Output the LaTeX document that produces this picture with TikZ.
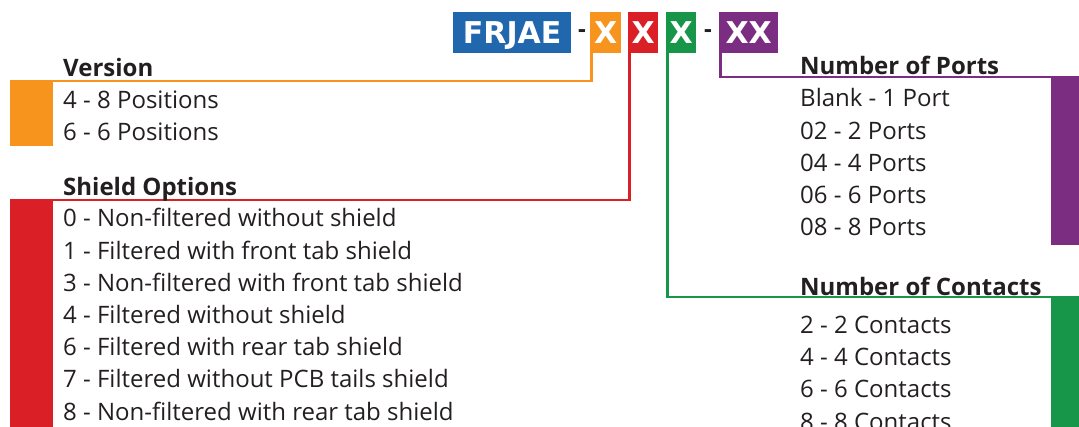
\documentclass[tikz,border=0pt]{standalone}
\usepackage{fontspec}
\setmainfont{Open Sans}
\newfontfamily\codefont{DejaVu Sans}
\definecolor{ink}{HTML}{231F20}
\definecolor{codeblue}{HTML}{2167AE}
\definecolor{verorange}{HTML}{F7941D}
\definecolor{shieldred}{HTML}{DA1F26}
\definecolor{contgreen}{HTML}{17964A}
\definecolor{portpurple}{HTML}{7B2D82}
\begin{document}
\begin{tikzpicture}[x=1pt, y=-1pt,
  code/.style={rectangle, fill=#1, text=white, font=\fontsize{30}{30}\codefont\bfseries, inner sep=0pt, minimum height=41pt, anchor=north west, text depth=-2pt},
  sep/.style={inner sep=0pt, text=ink, font=\fontsize{24}{24}\selectfont\bfseries},
  head/.style={anchor=base west, inner sep=0pt, text=ink, font=\fontsize{24}{24}\selectfont\bfseries},
  item/.style={anchor=base west, inner sep=0pt, text=ink, font=\fontsize{24}{24}\selectfont},
  lead/.style={line width=2.5pt, draw=#1}
]
  \useasboundingbox (0,0) rectangle (1079,427);

  \node[code=codeblue, minimum width=118pt]  (base) at (453,12) {FRJAE};
  \node[sep]                                 (d1)   at (582,34) {-};
  \node[code=verorange, minimum width=31pt]  (ver)  at (590,12) {X};
  \node[code=shieldred, minimum width=30pt]  (shd)  at (628,12) {X};
  \node[code=contgreen, minimum width=30pt]  (cnt)  at (666,12) {X};
  \node[sep]                                 (d2)   at (708,34) {-};
  \node[code=portpurple, minimum width=59pt] (prt)  at (719,12) {XX};

  \coordinate (verend) at (10,81);
  \coordinate (shdend) at (10,200);
  \coordinate (cntend) at (1079,297);
  \coordinate (prtend) at (1079,77);

  \draw[lead=verorange]  ([xshift=1.25pt]ver.south west) |- (verend);
  \draw[lead=shieldred]  ([xshift=1.25pt]shd.south west) |- (shdend);
  \draw[lead=contgreen]  ([xshift=1.25pt]cnt.south west) |- (cntend);
  \draw[lead=portpurple] ([xshift=1.25pt]prt.south west) |- (prtend);

  \fill[verorange]  (verend) rectangle (53,146);
  \fill[shieldred]  (shdend) rectangle (53,427);
  \fill[portpurple] (prtend) rectangle (1051,245);
  \fill[contgreen]  (cntend) rectangle (1051,427);

  \node[head] (verhead) at (63,77)  {Version};
  \node[head] (shdhead) at (63,196) {Shield Options};
  \node[head] (prthead) at (800,75) {Number of Ports};
  \node[head] (cnthead) at (800,296) {Number of Contacts};

  \foreach \t [count=\i from 0] in {4 - 8 Positions, 6 - 6 Positions}
    \node[item] (veropt\i) at (63,109+32*\i) {\t};
  \foreach \t [count=\i from 0] in {0 - Non-filtered without shield, 1 - Filtered with front tab shield,
      3 - Non-filtered with front tab shield, 4 - Filtered without shield, 6 - Filtered with rear tab shield,
      7 - Filtered without PCB tails shield, 8 - Non-filtered with rear tab shield}
    \node[item] (shdopt\i) at (63,227+32.2*\i) {\t};
  \foreach \t [count=\i from 0] in {Blank - 1 Port, 02 - 2 Ports, 04 - 4 Ports, 06 - 6 Ports, 08 - 8 Ports}
    \node[item] (prtopt\i) at (800,107+32.2*\i) {\t};
  \foreach \t [count=\i from 0] in {2 - 2 Contacts, 4 - 4 Contacts, 6 - 6 Contacts, 8 - 8 Contacts}
    \node[item] (cntopt\i) at (800,334+32*\i) {\t};
\end{tikzpicture}
\end{document}
